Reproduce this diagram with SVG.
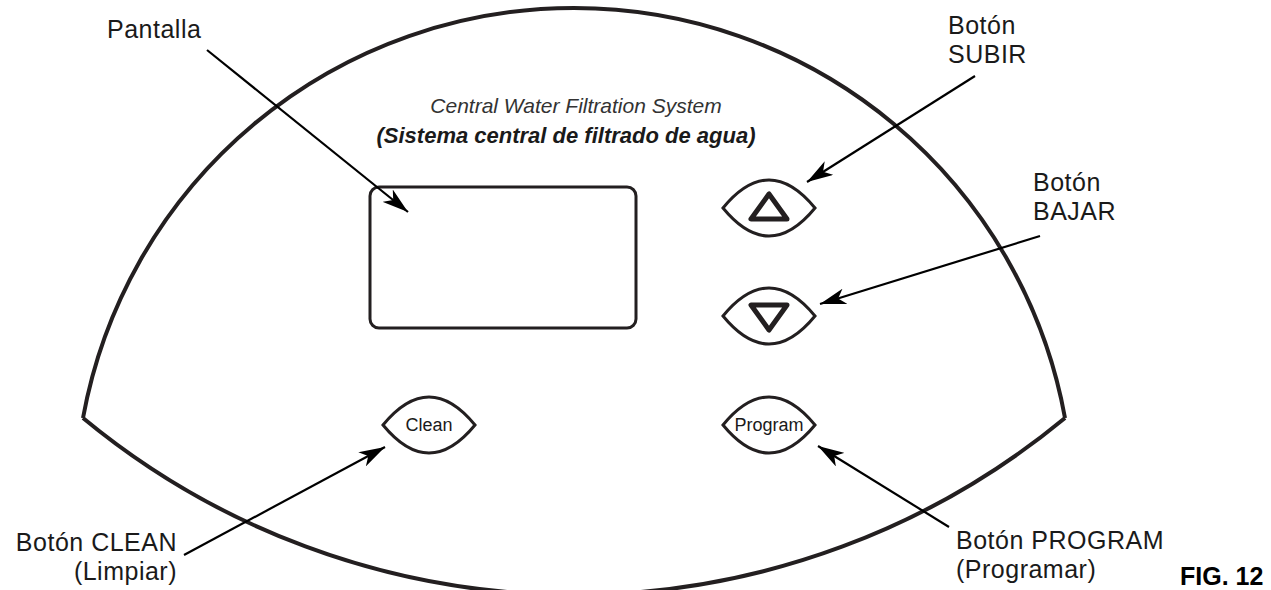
<svg xmlns="http://www.w3.org/2000/svg" width="1271" height="590" viewBox="0 0 1271 590">
<style>
.lbl{font-family:"Liberation Sans",Arial,sans-serif;font-size:25px;letter-spacing:0.5px;fill:#1a1a1a}
.btn{font-family:"Liberation Sans",Arial,sans-serif;font-size:18px;fill:#1a1a1a;text-anchor:middle}
.eye{fill:#fff;stroke:#231f20;stroke-width:3}
.tri{fill:none;stroke:#231f20;stroke-width:5;stroke-linejoin:round}
.conn{stroke:#000;stroke-width:2.2;fill:none;marker-end:url(#ah)}
</style>
<defs>
<marker id="ah" markerUnits="userSpaceOnUse" markerWidth="28" markerHeight="16" refX="26" refY="8" orient="auto">
<path d="M0,0 L26,8 L0,16 L7,8 Z" fill="#000"/>
</marker>
</defs>
<rect width="1271" height="590" fill="#fff"/>
<g id="panel">
<path d="M83,418 A499,499 0 0 1 1065,418" fill="none" stroke="#231f20" stroke-width="4"/>
<path d="M83,418 A770,770 0 0 0 1065,418" fill="none" stroke="#231f20" stroke-width="4"/>
</g>
<g id="title">
<text x="576" y="113" text-anchor="middle" font-family="Liberation Sans,Arial,sans-serif" font-size="21" font-style="italic" fill="#333">Central Water Filtration System</text>
<text x="566" y="143" text-anchor="middle" font-family="Liberation Sans,Arial,sans-serif" font-size="22" font-style="italic" font-weight="bold" fill="#1a1a1a">(Sistema central de filtrado de agua)</text>
</g>
<g id="display">
<rect x="370" y="187" width="266" height="141" rx="9" fill="none" stroke="#231f20" stroke-width="3"/>
</g>
<g id="btn-up">
<path class="eye" d="M723,208 Q769,152 815,208 Q769,264 723,208 Z"/>
<path class="tri" d="M769,194 L751,219 L787,219 Z"/>
</g>
<g id="btn-down">
<path class="eye" d="M723,316 Q769,260 815,316 Q769,372 723,316 Z"/>
<path class="tri" d="M751,305 L787,305 L769,330 Z"/>
</g>
<g id="btn-clean">
<path class="eye" d="M383,425 Q429,369 475,425 Q429,481 383,425 Z"/>
<text class="btn" x="429" y="431">Clean</text>
</g>
<g id="btn-program">
<path class="eye" d="M723,425 Q769,369 815,425 Q769,481 723,425 Z"/>
<text class="btn" x="769" y="431">Program</text>
</g>
<g id="labels">
<text class="lbl" x="107" y="38">Pantalla</text>
<text class="lbl" x="948" y="34">Botón</text>
<text class="lbl" x="948" y="63">SUBIR</text>
<text class="lbl" x="1033" y="191">Botón</text>
<text class="lbl" x="1033" y="220">BAJAR</text>
<text class="lbl" x="177" y="551" text-anchor="end">Botón CLEAN</text>
<text class="lbl" x="177" y="580" text-anchor="end">(Limpiar)</text>
<text class="lbl" x="956" y="549">Botón PROGRAM</text>
<text class="lbl" x="956" y="578">(Programar)</text>
<text x="1180" y="585" font-family="Liberation Sans,Arial,sans-serif" font-size="25" font-weight="bold" fill="#000">FIG. 12</text>
</g>
<g id="connectors">
<line class="conn" x1="207" y1="50" x2="408" y2="212"/>
<line class="conn" x1="975" y1="76" x2="807" y2="182"/>
<line class="conn" x1="1040" y1="236" x2="820" y2="304"/>
<line class="conn" x1="184" y1="555" x2="385" y2="447"/>
<line class="conn" x1="949" y1="527" x2="818" y2="446"/>
</g>
</svg>
